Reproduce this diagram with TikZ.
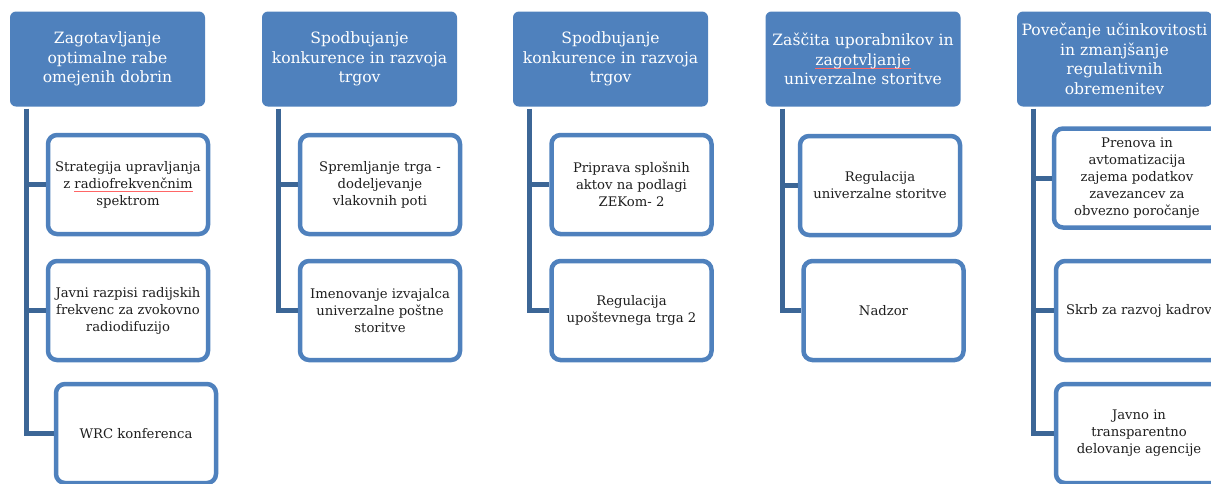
\documentclass[tikz,border=0pt]{standalone}
\usepackage{fontspec}
\setmainfont{DejaVu Serif}
\definecolor{hdrblue}{HTML}{4F81BD}
\definecolor{linkblue}{HTML}{3C6696}
\definecolor{txtgray}{HTML}{1E1E1E}
\newcommand{\spellmark}[1]{\setbox0=\hbox{#1}\rlap{\textcolor{red!60}{\rule[-3pt]{\wd0}{0.6pt}}}\box0}
\begin{document}
\begin{tikzpicture}[x=1pt,y=-1pt,
    hdr/.style={rectangle, rounded corners=6pt, fill=hdrblue, text=white,
        minimum width=195pt, minimum height=95pt, align=center, inner sep=0pt,
        font=\fontsize{15.6}{19.5}\selectfont},
    task/.style={rectangle, rounded corners=9pt, draw=hdrblue, line width=4.5pt,
        fill=white, text=txtgray, minimum width=160pt, minimum height=99pt,
        align=center, inner sep=0pt, font=\fontsize{13.2}{17}\selectfont},
    link/.style={draw=linkblue, line width=5pt}]
    \useasboundingbox (0,0) rectangle (1211,483);
    % headers
    \node[hdr] (h1) at (107.5,59) {Zagotavljanje\\optimalne rabe\\omejenih dobrin};
    \node[hdr] (h2) at (359.5,59) {Spodbujanje\\konkurence in razvoja\\trgov};
    \node[hdr] (h3) at (610.5,59) {Spodbujanje\\konkurence in razvoja\\trgov};
    \node[hdr] (h4) at (863,59) {Zaščita uporabnikov in\\\spellmark{zagotvljanje}\\univerzalne storitve};
    \node[hdr] (h5) at (1114.5,59) {Povečanje učinkovitosti\\in zmanjšanje\\regulativnih\\obremenitev};
    % column 1
    \node[task] (c11) at (128,184.5) {Strategija upravljanja\\z \spellmark{radiofrekvenčnim}\\spektrom};
    \node[task] (c12) at (128,310.5) {Javni razpisi radijskih\\frekvenc za zvokovno\\radiodifuzijo};
    \node[task] (c13) at (136,433.5) {WRC konferenca};
    % column 2
    \node[task] (c21) at (380,184.5) {Spremljanje trga -\\dodeljevanje\\vlakovnih poti};
    \node[task] (c22) at (380,310.5) {Imenovanje izvajalca\\univerzalne poštne\\storitve};
    % column 3
    \node[task] (c31) at (631.5,184.5) {Priprava splošnih\\aktov na podlagi\\ZEKom- 2};
    \node[task] (c32) at (631.5,310.5) {Regulacija\\upoštevnega trga 2};
    % column 4
    \node[task] (c41) at (880,185.5) {Regulacija\\univerzalne storitve};
    \node[task] (c42) at (883.5,310.5) {Nadzor};
    % column 5
    \node[task, minimum width=166pt] (c51) at (1137,178) {Prenova in\\avtomatizacija\\zajema podatkov\\zavezancev za\\obvezno poročanje};
    \node[task, minimum width=166pt] (c52) at (1139,310.5) {Skrb za razvoj kadrov};
    \node[task, minimum width=166pt] (c53) at (1139,433.5) {Javno in\\transparentno\\delovanje agencije};
    % connectors
    \foreach \h in {1,...,5}
        \coordinate (v\h) at ([shift={(17pt,-2pt)}]h\h.south west);
    \draw[link] (v1) |- (c13.west) (v1) |- (c12.west) (v1) |- (c11.west);
    \draw[link] (v2) |- (c22.west) (v2) |- (c21.west);
    \draw[link] (v3) |- (c32.west) (v3) |- (c31.west);
    \draw[link] (v4) |- (c42.west) (v4) |- (c41.west);
    \draw[link] (v5) |- (c53.west) (v5) |- (c52.west) (v5) |- (c51.west);
\end{tikzpicture}
\end{document}
